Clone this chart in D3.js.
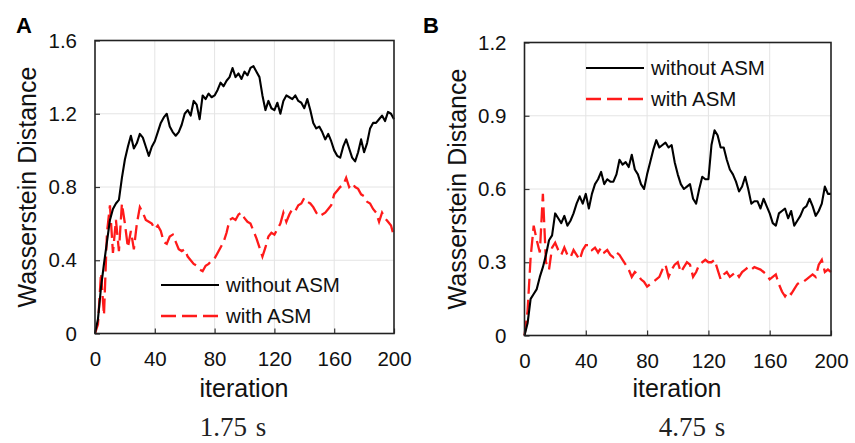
<!DOCTYPE html>
<html>
<head>
<meta charset="utf-8">
<script src="https://cdn.jsdelivr.net/npm/d3@7"></script>
<style>
  body { margin: 0; background: #fff; }
  svg { display: block; }
</style>
</head>
<body>
<script>
// data: Wasserstein distance every 2 iterations (0..200)
var iterations = d3.range(0, 201, 2);

var aWithout = [0.00,0.08,0.25,0.38,0.50,0.62,0.68,0.71,0.73,0.85,0.95,1.02,1.08,1.01,1.04,1.09,1.07,1.02,0.97,1.02,
  1.05,1.10,1.15,1.18,1.20,1.13,1.10,1.08,1.10,1.14,1.20,1.22,1.19,1.27,1.25,1.17,1.30,1.28,1.31,1.29,
  1.30,1.33,1.37,1.35,1.38,1.40,1.45,1.40,1.42,1.39,1.43,1.41,1.45,1.46,1.43,1.40,1.30,1.22,1.27,1.23,
  1.22,1.26,1.20,1.27,1.30,1.29,1.28,1.30,1.27,1.26,1.23,1.28,1.22,1.15,1.12,1.13,1.10,1.06,1.09,1.05,
  1.00,0.97,0.96,1.02,1.06,1.01,0.96,0.94,0.99,1.06,0.99,1.04,1.12,1.15,1.15,1.17,1.19,1.16,1.21,1.20,1.17];

var aWith = [0.00,0.05,0.33,0.10,0.55,0.70,0.44,0.62,0.45,0.71,0.60,0.47,0.56,0.46,0.60,0.69,0.66,0.62,0.61,0.60,
  0.57,0.59,0.56,0.50,0.49,0.53,0.54,0.50,0.46,0.45,0.46,0.42,0.40,0.38,0.37,0.35,0.34,0.37,0.38,0.40,
  0.41,0.44,0.47,0.50,0.55,0.62,0.63,0.62,0.65,0.66,0.63,0.61,0.60,0.56,0.52,0.47,0.42,0.47,0.53,0.55,
  0.54,0.57,0.60,0.66,0.61,0.65,0.68,0.67,0.70,0.71,0.74,0.72,0.71,0.69,0.66,0.64,0.65,0.66,0.68,0.70,
  0.76,0.78,0.80,0.81,0.85,0.80,0.82,0.80,0.79,0.76,0.75,0.72,0.71,0.68,0.66,0.61,0.66,0.63,0.61,0.59,0.53];

var bWithout = [0.00,0.05,0.15,0.17,0.19,0.24,0.28,0.33,0.39,0.41,0.50,0.48,0.46,0.49,0.45,0.47,0.50,0.54,0.57,0.54,
  0.58,0.52,0.58,0.62,0.64,0.67,0.62,0.64,0.63,0.63,0.66,0.72,0.70,0.71,0.69,0.74,0.68,0.66,0.62,0.60,
  0.66,0.71,0.76,0.80,0.77,0.78,0.79,0.77,0.78,0.71,0.66,0.62,0.60,0.61,0.62,0.56,0.54,0.60,0.65,0.64,
  0.64,0.78,0.84,0.82,0.77,0.77,0.72,0.68,0.66,0.63,0.59,0.61,0.65,0.60,0.54,0.55,0.55,0.52,0.56,0.53,
  0.50,0.46,0.45,0.50,0.51,0.52,0.48,0.51,0.45,0.47,0.49,0.52,0.53,0.56,0.53,0.49,0.51,0.54,0.61,0.58,0.58];

var bWith = [0.00,0.10,0.32,0.45,0.39,0.34,0.58,0.30,0.27,0.36,0.38,0.35,0.33,0.36,0.33,0.32,0.35,0.33,0.31,0.35,
  0.37,0.37,0.35,0.36,0.34,0.36,0.34,0.35,0.33,0.32,0.34,0.33,0.31,0.29,0.27,0.24,0.26,0.25,0.23,0.22,
  0.20,0.21,0.22,0.23,0.24,0.27,0.29,0.24,0.27,0.29,0.30,0.26,0.28,0.30,0.29,0.24,0.26,0.29,0.30,0.31,
  0.30,0.30,0.31,0.27,0.23,0.25,0.26,0.24,0.25,0.26,0.24,0.26,0.27,0.28,0.27,0.28,0.275,0.27,0.26,0.25,
  0.23,0.24,0.25,0.21,0.18,0.16,0.18,0.17,0.19,0.21,0.22,0.22,0.23,0.24,0.25,0.24,0.29,0.31,0.26,0.27,0.26];

var xTicks = [0, 40, 80, 120, 160, 200];
var aYTicks = [0, 0.4, 0.8, 1.2, 1.6];
var bYTicks = [0, 0.3, 0.6, 0.9, 1.2];
var seriesNames = ['without ASM', 'with ASM'];

var width = 855, height = 443;

var svg = d3.select('body').append('svg')
    .attr('width', width)
    .attr('height', height)
    .style('font-family', '"Liberation Sans", Arial, sans-serif');

function panel(opt) {
  var g = svg.append('g');
  var x = d3.scaleLinear().domain([0, 200]).range([opt.left, opt.right]);
  var y = d3.scaleLinear().domain([0, opt.yMax]).range([opt.bottom, opt.top]);

  // grid
  g.selectAll('line.vgrid').data(xTicks.slice(1, -1)).enter().append('line')
      .attr('x1', function (d) { return x(d); }).attr('x2', function (d) { return x(d); })
      .attr('y1', opt.top).attr('y2', opt.bottom)
      .attr('stroke', '#e4e4e4').attr('stroke-width', 1);
  g.selectAll('line.hgrid').data(opt.yTicks.slice(1, -1)).enter().append('line')
      .attr('y1', function (d) { return y(d); }).attr('y2', function (d) { return y(d); })
      .attr('x1', opt.left).attr('x2', opt.right)
      .attr('stroke', '#e4e4e4').attr('stroke-width', 1);

  // axes with inward ticks
  var xAxis = g.append('g')
      .attr('transform', 'translate(0,' + opt.bottom + ')')
      .call(d3.axisBottom(x).tickValues(xTicks).tickSizeInner(-5).tickSizeOuter(0).tickPadding(18)
        .tickFormat(d3.format('d')));
  var yAxis = g.append('g')
      .attr('transform', 'translate(' + opt.left + ',0)')
      .call(d3.axisLeft(y).tickValues(opt.yTicks).tickSizeInner(-5).tickSizeOuter(0).tickPadding(18)
        .tickFormat(function (d) { return d === 0 ? '0' : d3.format('.1f')(d); }));
  [xAxis, yAxis].forEach(function (a) {
    a.select('.domain').remove();
    a.selectAll('.tick line').attr('stroke', '#333').attr('stroke-width', 1.2);
    a.selectAll('.tick text').attr('fill', '#111').style('font-size', '20.5px')
        .style('font-family', '"Liberation Sans", Arial, sans-serif');
  });

  var line = d3.line()
      .x(function (d, i) { return x(iterations[i]); })
      .y(function (d) { return y(d); });

  g.append('path').datum(opt.withASM)
      .attr('d', line).attr('fill', 'none')
      .attr('stroke', '#ff1a1a').attr('stroke-width', 2.3)
      .attr('stroke-dasharray', '15,6');
  g.append('path').datum(opt.withoutASM)
      .attr('d', line).attr('fill', 'none')
      .attr('stroke', '#000').attr('stroke-width', 2.1)
      .attr('stroke-linejoin', 'round');

  // frame
  g.append('rect')
      .attr('x', opt.left).attr('y', opt.top)
      .attr('width', opt.right - opt.left).attr('height', opt.bottom - opt.top)
      .attr('fill', 'none').attr('stroke', '#222').attr('stroke-width', 1.6);

  // legend
  var leg = g.append('g');
  seriesNames.forEach(function (name, i) {
    var ly = opt.legY + i * 31;
    leg.append('line')
        .attr('x1', opt.legX).attr('x2', opt.legX + 58)
        .attr('y1', ly).attr('y2', ly)
        .attr('stroke', i === 0 ? '#000' : '#ff1a1a')
        .attr('stroke-width', i === 0 ? 2 : 2.3)
        .attr('stroke-dasharray', i === 0 ? null : '15,6');
    leg.append('text')
        .attr('x', opt.legX + 65).attr('y', ly + 7)
        .style('font-size', '20.5px').attr('fill', '#111')
        .text(name);
  });

  // labels
  g.append('text')
      .attr('x', opt.letterX).attr('y', 33)
      .style('font-size', '22px').style('font-weight', 'bold')
      .text(opt.letter);
  g.append('text')
      .attr('transform', 'translate(' + opt.yLabelX + ',' + ((opt.top + opt.bottom) / 2) + ') rotate(-90)')
      .attr('text-anchor', 'middle')
      .style('font-size', '25px').attr('fill', '#111')
      .text('Wasserstein Distance');
  g.append('text')
      .attr('x', opt.xLabelX).attr('y', 397)
      .attr('text-anchor', 'middle')
      .style('font-size', '25px').attr('fill', '#111')
      .text('iteration');
  g.append('text')
      .attr('x', opt.timeX).attr('y', 436)
      .attr('text-anchor', 'middle')
      .style('font-family', '"Liberation Serif", "Times New Roman", serif')
      .style('font-size', '27px').style('word-spacing', '2px').attr('fill', '#222')
      .text(opt.time);
}

panel({
  letter: 'A', letterX: 16, time: '1.75 s', timeX: 233,
  left: 95, right: 394, top: 40.5, bottom: 333.5,
  yMax: 1.6, yTicks: aYTicks,
  withoutASM: aWithout, withASM: aWith,
  legX: 161, legY: 285,
  yLabelX: 36, xLabelX: 244
});

panel({
  letter: 'B', letterX: 423, time: '4.75 s', timeX: 692,
  left: 524.5, right: 831, top: 42.5, bottom: 335.5,
  yMax: 1.2, yTicks: bYTicks,
  withoutASM: bWithout, withASM: bWith,
  legX: 586, legY: 68,
  yLabelX: 466, xLabelX: 677
});
</script>
</body>
</html>
